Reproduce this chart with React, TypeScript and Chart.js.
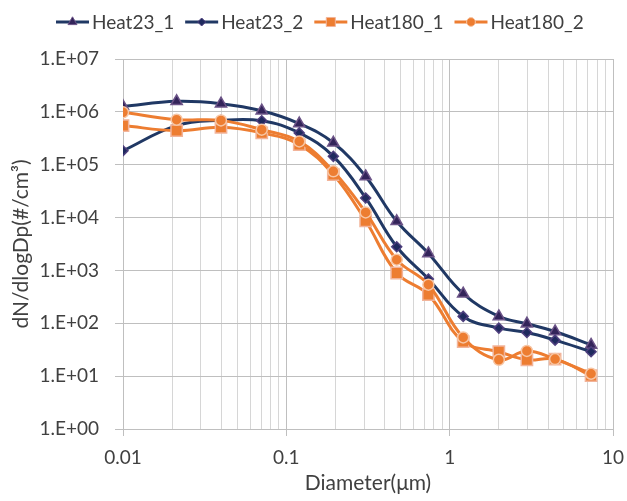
import React, { useEffect, useRef } from 'react';
import { Chart, registerables } from 'chart.js';
import { drawPoint } from 'chart.js/helpers';

Chart.register(...registerables);

// ---- data ----
const diameters = [0.01, 0.0213, 0.0398, 0.0707, 0.12, 0.194, 0.306, 0.474, 0.741, 1.21, 2.0, 2.97, 4.42, 7.34];
const heat23_1 = [1.27e6, 1.58e6, 1.43e6, 1.05e6, 6.0e5, 2.6e5, 6.0e4, 8.5e3, 2.1e3, 363, 135, 98, 70, 39];
const heat23_2 = [1.84e5, 5.5e5, 6.9e5, 6.8e5, 4.0e5, 1.44e5, 2.35e4, 2.8e3, 690, 135, 81, 67, 48, 29];
const heat180_1 = [5.5e5, 4.4e5, 5.1e5, 4.0e5, 2.4e5, 6.5e4, 8.7e3, 895, 348, 45, 29, 20.4, 21, 10.2];
const heat180_2 = [9.8e5, 7.1e5, 6.9e5, 4.6e5, 2.76e5, 7.5e4, 1.25e4, 1.6e3, 537, 54, 20.4, 30, 21, 11.1];
const seriesNames = ['Heat23_1', 'Heat23_2', 'Heat180_1', 'Heat180_2'];
const xTickValues = [0.01, 0.1, 1, 10];
const xTickLabels = ['0.01', '0.1', '1', '10'];
const yTickValues = [1, 10, 100, 1e3, 1e4, 1e5, 1e6, 1e7];
const yTickLabels = ['1.E+00', '1.E+01', '1.E+02', '1.E+03', '1.E+04', '1.E+05', '1.E+06', '1.E+07'];
const xTitle = 'Diameter(μm)';
const yTitle = 'dN/dlogDp(#/cm³)';

const NAVY = '#203864';
const ORANGE = '#ED7D31';
const TEXT = '#404040';
const FONT = 'Lato';

const isMajor = (v: number) => Math.abs(Math.log10(v) - Math.round(Math.log10(v))) < 1e-6;

const legendPlugin = {
  id: 'customLegend',
  afterDraw(chart: any) {
    const ctx = chart.ctx;
    ctx.save();
    ctx.font = `19px ${FONT}`;
    ctx.textBaseline = 'middle';
    let x = 56;
    const y = 22;
    chart.data.datasets.forEach((ds: any) => {
      ctx.strokeStyle = ds.borderColor;
      ctx.lineWidth = 3;
      ctx.beginPath();
      ctx.moveTo(x, y);
      ctx.lineTo(x + 33, y);
      ctx.stroke();
      ctx.fillStyle = ds.pointBackgroundColor;
      ctx.strokeStyle = ds.pointBorderColor;
      ctx.lineWidth = 1;
      drawPoint(ctx, { pointStyle: ds.pointStyle, radius: ds.pointRadius * 0.8, borderWidth: 1, rotation: 0 }, x + 16.5, y);
      ctx.fillStyle = TEXT;
      ctx.textAlign = 'left';
      ctx.fillText(ds.label, x + 36, y + 1);
      x += 36 + ctx.measureText(ds.label).width + 11;
    });
    ctx.restore();
  },
};

export default function App() {
  const ref = useRef<HTMLCanvasElement | null>(null);
  useEffect(() => {
    if (!ref.current) return;
    const mk = (vals: number[]) => diameters.map((d, i) => ({ x: d, y: vals[i] }));
    const styles = [
      { c: NAVY, ps: 'triangle', r: 6.5, bg: '#33245A', bc: '#6B5387', order: 4 },
      { c: NAVY, ps: 'rectRot', r: 5, bg: '#1F2A5E', bc: '#4E3F7E', order: 3 },
      { c: ORANGE, ps: 'rect', r: 8, bg: ORANGE, bc: '#F2B49A', order: 2 },
      { c: ORANGE, ps: 'circle', r: 5.5, bg: ORANGE, bc: '#F7C6A5', order: 1 },
    ];
    const values = [heat23_1, heat23_2, heat180_1, heat180_2];
    const chart = new Chart(ref.current, {
      type: 'line',
      data: {
        datasets: values.map((v, i) => ({
          label: seriesNames[i],
          data: mk(v),
          borderColor: styles[i].c,
          backgroundColor: styles[i].c,
          borderWidth: 3,
          pointStyle: styles[i].ps,
          pointRadius: styles[i].r,
          pointBackgroundColor: styles[i].bg,
          pointBorderColor: styles[i].bc,
          pointBorderWidth: 1.5,
          tension: 0.4,
          order: styles[i].order,
        })),
      },
      options: {
        responsive: false,
        animation: false,
        layout: { padding: { top: 59, right: 14, bottom: 0, left: 0 } },
        plugins: { legend: { display: false }, tooltip: { enabled: false } },
        scales: {
          x: {
            type: 'logarithmic',
            min: 0.01,
            max: 10,
            afterBuildTicks: (scale: any) => {
              const t: any[] = [];
              for (let e = -2; e <= 0; e++) for (let m = 1; m <= 9; m++) t.push({ value: +(m * Math.pow(10, e)).toPrecision(3) });
              t.push({ value: 10 });
              scale.ticks = t;
            },
            afterFit: (scale: any) => {
              scale.height = 72;
              scale.paddingLeft = 0;
              scale.paddingRight = 0;
            },
            ticks: {
              autoSkip: false,
              maxRotation: 0,
              padding: 10,
              color: TEXT,
              font: { family: FONT, size: 19 },
              callback: (v: any) => {
                const idx = xTickValues.findIndex((t) => Math.abs(Math.log10(t) - Math.log10(v)) < 1e-6);
                return idx >= 0 ? xTickLabels[idx] : '';
              },
            },
            grid: {
              color: (c: any) => (c.tick && isMajor(c.tick.value) ? '#BFBFBF' : '#D6D6D6'),
              tickColor: (c: any) => (c.tick && isMajor(c.tick.value) ? '#BFBFBF' : 'rgba(0,0,0,0)'),
              tickLength: 7,
              lineWidth: 1,
            },
            border: { color: '#BFBFBF' },
            title: {
              display: true,
              text: xTitle,
              color: TEXT,
              font: { family: FONT, size: 21 },
              padding: { top: 0, bottom: 5 },
            },
          },
          y: {
            type: 'logarithmic',
            min: 1,
            max: 1e7,
            afterBuildTicks: (scale: any) => {
              scale.ticks = yTickValues.map((v) => ({ value: v }));
            },
            afterFit: (scale: any) => {
              scale.width = 123;
              scale.paddingTop = 0;
              scale.paddingBottom = 0;
            },
            ticks: {
              autoSkip: false,
              padding: 16,
              color: TEXT,
              font: { family: FONT, size: 19 },
              callback: (v: any) => {
                const idx = yTickValues.findIndex((t) => Math.abs(Math.log10(t) - Math.log10(v)) < 1e-6);
                return idx >= 0 ? yTickLabels[idx] : '';
              },
            },
            grid: { color: '#BFBFBF', tickColor: '#BFBFBF', tickLength: 8 },
            border: { color: '#BFBFBF' },
            title: {
              display: true,
              text: yTitle,
              color: TEXT,
              font: { family: FONT, size: 21 },
              padding: { top: 9, bottom: 0 },
            },
          },
        },
      },
      plugins: [legendPlugin],
    } as any);
    return () => chart.destroy();
  }, []);
  return (
    <div style={{ position: 'fixed', left: 0, top: 0, width: 627, height: 501, background: '#fff' }}>
      <canvas ref={ref} width={627} height={501} style={{ width: 627, height: 501 }} />
    </div>
  );
}
